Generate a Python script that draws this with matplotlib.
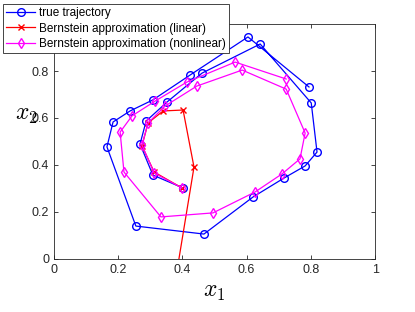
import matplotlib
matplotlib.use("Agg")
import matplotlib.pyplot as plt

plt.rcParams['font.family'] = ['Liberation Sans', 'DejaVu Sans']
plt.rcParams['mathtext.fontset'] = 'cm'

# true trajectory
true_x = [0.402, 0.308, 0.268, 0.287, 0.352, 0.461, 0.642, 0.801, 0.819, 0.782, 0.717,
          0.620, 0.467, 0.255, 0.165, 0.184, 0.237, 0.308, 0.424, 0.604, 0.794]
true_y = [0.302, 0.357, 0.489, 0.587, 0.668, 0.791, 0.915, 0.664, 0.455, 0.396, 0.345,
          0.264, 0.106, 0.140, 0.477, 0.583, 0.630, 0.677, 0.783, 0.945, 0.732]

# Bernstein approximation (linear)
lin_x = [0.399, 0.312, 0.274, 0.293, 0.340, 0.402, 0.436, 0.329]
lin_y = [0.302, 0.370, 0.481, 0.579, 0.630, 0.634, 0.391, -0.5]

# Bernstein approximation (nonlinear)
nl_x = [0.399, 0.312, 0.274, 0.293, 0.346, 0.445, 0.586, 0.723, 0.782, 0.766, 0.710,
        0.626, 0.495, 0.333, 0.218, 0.206, 0.243, 0.315, 0.414, 0.564, 0.723]
nl_y = [0.302, 0.366, 0.485, 0.579, 0.651, 0.736, 0.804, 0.723, 0.536, 0.426, 0.362,
        0.285, 0.196, 0.179, 0.370, 0.540, 0.609, 0.672, 0.753, 0.838, 0.766]

fig = plt.figure(figsize=(4.15, 3.12), dpi=100)
ax = fig.add_axes([0.130, 0.170, 0.774, 0.753])

ax.plot(true_x, true_y, color='blue', marker='o', markersize=5.5, markerfacecolor='none',
        linewidth=0.9, label='true trajectory')
ax.plot(lin_x, lin_y, color='red', marker='x', markersize=4, linewidth=0.9,
        label='Bernstein approximation (linear)')
ax.plot(nl_x, nl_y, color='magenta', marker='d', markersize=5.5, markerfacecolor='none',
        linewidth=0.9, label='Bernstein approximation (nonlinear)')

ax.set_xlim(0, 1)
ax.set_ylim(0, 1)
ax.set_xticks([0, 0.2, 0.4, 0.6, 0.8, 1])
ax.set_xticklabels(['0', '0.2', '0.4', '0.6', '0.8', '1'])
ax.set_yticks([0, 0.2, 0.4, 0.6, 0.8])
ax.set_yticklabels(['0', '0.2', '0.4', '0.6', '0.8'])

gray = (0.15, 0.15, 0.15)
for s in ax.spines.values():
    s.set_color(gray)
    s.set_linewidth(0.6)
ax.tick_params(direction='in', top=True, right=True, length=3, width=0.6,
               color=gray, labelcolor=gray, labelsize=9)

ax.set_xlabel('$x_1$', fontsize=17, labelpad=4)
ax.set_ylabel('$x_2$', fontsize=17, rotation=0, labelpad=4)
ax.yaxis.set_label_coords(-0.085, 0.565)

leg = ax.legend(loc='upper left', bbox_to_anchor=(0.007, 0.987),
                bbox_transform=fig.transFigure, fontsize=8.5, fancybox=False,
                framealpha=1, edgecolor=gray, handlelength=2.5, handletextpad=0.3,
                borderpad=0.25, labelspacing=0.3, borderaxespad=0)
leg.get_frame().set_linewidth(0.6)

fig.savefig('out.png', dpi=100)
